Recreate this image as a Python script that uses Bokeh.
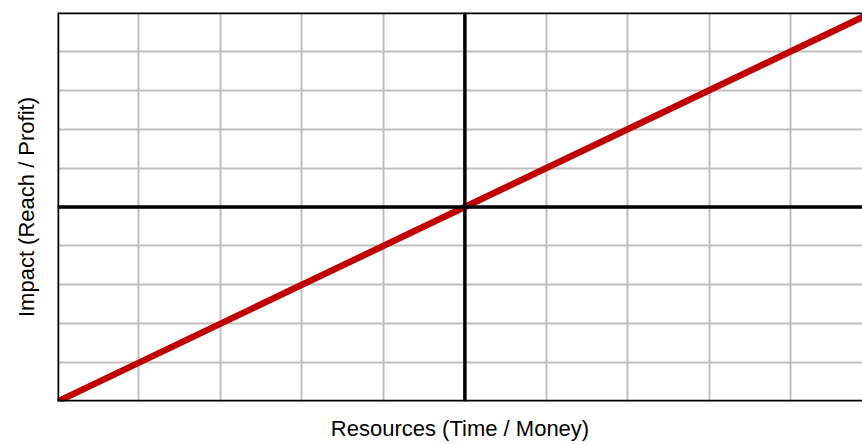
from bokeh.plotting import figure
from bokeh.models import Span, FixedTicker, Range1d
from bokeh.embed import file_html
from bokeh.resources import INLINE

# Data
resources = [0, 10]
impact = [0, 10]
grid_ticks = list(range(0, 11))
x_label = "Resources (Time / Money)"
y_label = "Impact (Reach / Profit)"

p = figure(width=862, height=444, output_backend="svg", toolbar_location=None,
           x_range=Range1d(0, 9.88), y_range=Range1d(0, 10),
           min_border_left=57, min_border_right=0, min_border_top=12, min_border_bottom=43)
p.outline_line_color = None
p.background_fill_color = "white"
p.border_fill_color = "white"

for ax in (p.xaxis[0], p.yaxis[0]):
    ax.ticker = FixedTicker(ticks=[])
    ax.major_tick_line_color = None
    ax.minor_tick_line_color = None
    ax.axis_line_color = None
    ax.axis_label_text_font = "Liberation Sans"
    ax.axis_label_text_font_size = "22px"
    ax.axis_label_text_font_style = "normal"
    ax.axis_label_text_color = "black"

p.xaxis.axis_label = x_label
p.yaxis.axis_label = y_label
p.xaxis.axis_label_standoff = 14
p.yaxis.axis_label_standoff = 19

p.xgrid.ticker = FixedTicker(ticks=grid_ticks)
p.ygrid.ticker = FixedTicker(ticks=grid_ticks)
p.grid.grid_line_color = "#bfbfbf"
p.grid.grid_line_width = 2

for loc in (0, 5):
    p.add_layout(Span(location=loc, dimension="height", line_color="black", line_width=3.5))
for loc in (0, 5, 10):
    p.add_layout(Span(location=loc, dimension="width", line_color="black", line_width=3.5))

p.line(resources, impact, line_color="#c00000", line_width=6.5, line_cap="butt")

open("out.html", "w").write(file_html(p, INLINE))
